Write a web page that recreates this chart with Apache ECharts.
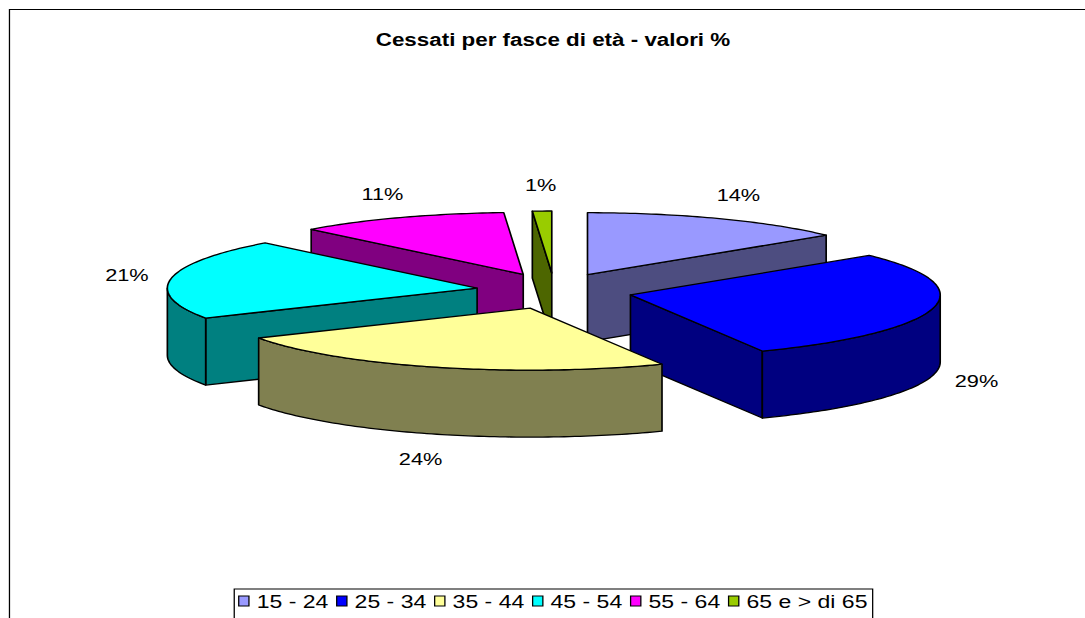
<!DOCTYPE html>
<html>
<head>
<meta charset="utf-8">
<script src="https://cdn.jsdelivr.net/npm/echarts@6/dist/echarts.min.js"></script>
<style>
    html, body { margin: 0; padding: 0; background: #fff; overflow: hidden; }
    /* il grafico originale è stirato in orizzontale: lo riproduciamo con scaleX */
    #grafico { width: 848px; height: 618px; transform: scaleX(1.28); transform-origin: 0 0; }
</style>
</head>
<body>
<div id="grafico"></div>
<script>
// Dati
const categorie = ['15 - 24', '25 - 34', '35 - 44', '45 - 54', '55 - 64', '65 e > di 65'];
const valori = [14, 29, 24, 21, 11, 1];

// Colori (faccia superiore / lati)
const coloriSopra = ['#9999FF', '#0000FF', '#FFFF99', '#00FFFF', '#FF00FF', '#99CC00'];
const coloriLato = ['#4D4D80', '#000080', '#808050', '#008080', '#800080', '#4D6600'];

const FONT = '"Liberation Sans", Arial, sans-serif';

// Geometria della torta 3D (coordinate prima dello stiramento)
const CX = 433, CY = 291;
const RX = 242, RY = 62;
const SPESSORE = 67;
const ESPLODI_X = 61, ESPLODI_Y = 18;
const ETICHETTA_RX = 277, ETICHETTA_RY = 88;

const totale = valori.reduce((a, b) => a + b, 0);

function angoliFetta(i) {
    let inizio = 0;
    for (let k = 0; k < i; k++) inizio += valori[k];
    const a0 = inizio / totale * Math.PI * 2;
    const a1 = (inizio + valori[i]) / totale * Math.PI * 2;
    return {a0, a1, mid: (a0 + a1) / 2};
}

function disegnaFetta(i) {
    const {a0, a1, mid} = angoliFetta(i);
    const ox = CX + ESPLODI_X * Math.sin(mid);
    const oy = CY - ESPLODI_Y * Math.cos(mid);
    const punto = (a, dz) => [ox + RX * Math.sin(a), oy - RY * Math.cos(a) + dz];
    const arco = (da, a, dz) => {
        const pts = [];
        const n = Math.max(2, Math.ceil((a - da) / (Math.PI / 180)));
        for (let k = 0; k <= n; k++) pts.push(punto(da + (a - da) * k / n, dz));
        return pts;
    };
    const stile = (fill) => ({fill: fill, stroke: '#000', lineWidth: 1.3, lineJoin: 'round'});
    const figli = [];

    // lato radiale iniziale
    if (Math.sin(a0) < -1e-6) {
        figli.push({type: 'polygon', shape: {points: [[ox, oy], punto(a0, 0), punto(a0, SPESSORE), [ox, oy + SPESSORE]]},
            style: stile(coloriLato[i]), z2: 1});
    }
    // lato radiale finale
    if (Math.sin(a1) > 1e-6) {
        figli.push({type: 'polygon', shape: {points: [[ox, oy], punto(a1, 0), punto(a1, SPESSORE), [ox, oy + SPESSORE]]},
            style: stile(coloriLato[i]), z2: 1});
    }
    // parete esterna (solo la parte frontale)
    const lo = Math.max(a0, Math.PI / 2), hi = Math.min(a1, Math.PI * 1.5);
    if (hi > lo) {
        const pts = arco(lo, hi, 0).concat(arco(lo, hi, SPESSORE).reverse());
        figli.push({type: 'polygon', shape: {points: pts}, style: stile(coloriLato[i]), z2: 2});
    }
    // faccia superiore
    figli.push({type: 'polygon', shape: {points: [[ox, oy]].concat(arco(a0, a1, 0))},
        style: stile(coloriSopra[i]), z2: 3});

    // etichetta percentuale
    const lx = ox + ETICHETTA_RX * Math.sin(mid);
    const ly = oy - ETICHETTA_RY * Math.cos(mid) + (Math.cos(mid) < 0 ? SPESSORE : 0);
    const perc = Math.round(valori[i] / totale * 100) + '%';
    figli.push({type: 'text', x: lx, y: ly, z2: 10,
        style: {text: perc, fill: '#000', font: '17px ' + FONT,
            align: 'center', verticalAlign: 'middle', textAlign: 'center', textVerticalAlign: 'middle'}});

    return {type: 'group', children: figli};
}

// ordine di disegno: dalle fette posteriori a quelle anteriori
const profondita = categorie.map((c, i) => -Math.cos(angoliFetta(i).mid));
const ordine = profondita.map((p, i) => i).sort((a, b) => profondita[a] - profondita[b]);

const serie = categorie.map((nome, i) => ({
    name: nome,
    type: 'custom',
    coordinateSystem: 'none',
    z: 2 + ordine.indexOf(i),
    itemStyle: {color: coloriSopra[i]},
    data: [valori[i]],
    renderItem: () => disegnaFetta(i)
}));

const myChart = echarts.init(document.getElementById('grafico'), null, {renderer: 'svg'});

const option = {
    animation: false,
    backgroundColor: '#fff',
    title: {
        text: 'Cessati per fasce di età - valori %',
        left: 432,
        textAlign: 'center',
        top: 31,
        padding: 0,
        textStyle: {fontFamily: FONT, fontSize: 17.5, fontWeight: 'bold', color: '#000'}
    },
    legend: {
        data: categorie,
        left: 183,
        top: 589,
        padding: [3, 4, 40, 3],
        orient: 'horizontal',
        icon: 'rect',
        itemWidth: 8,
        itemHeight: 10,
        itemGap: 6,
        borderColor: '#000',
        borderWidth: 1,
        itemStyle: {borderColor: '#000', borderWidth: 1},
        textStyle: {fontFamily: FONT, fontSize: 18, color: '#000', padding: [0, 0, 0, 1]},
        selectedMode: false
    },
    graphic: [{
        type: 'rect',
        shape: {x: 7.4, y: 9.5, width: 2000, height: 2000},
        style: {fill: 'none', stroke: '#000', lineWidth: 1},
        z: 0
    }],
    series: serie
};

myChart.setOption(option);
</script>
</body>
</html>
